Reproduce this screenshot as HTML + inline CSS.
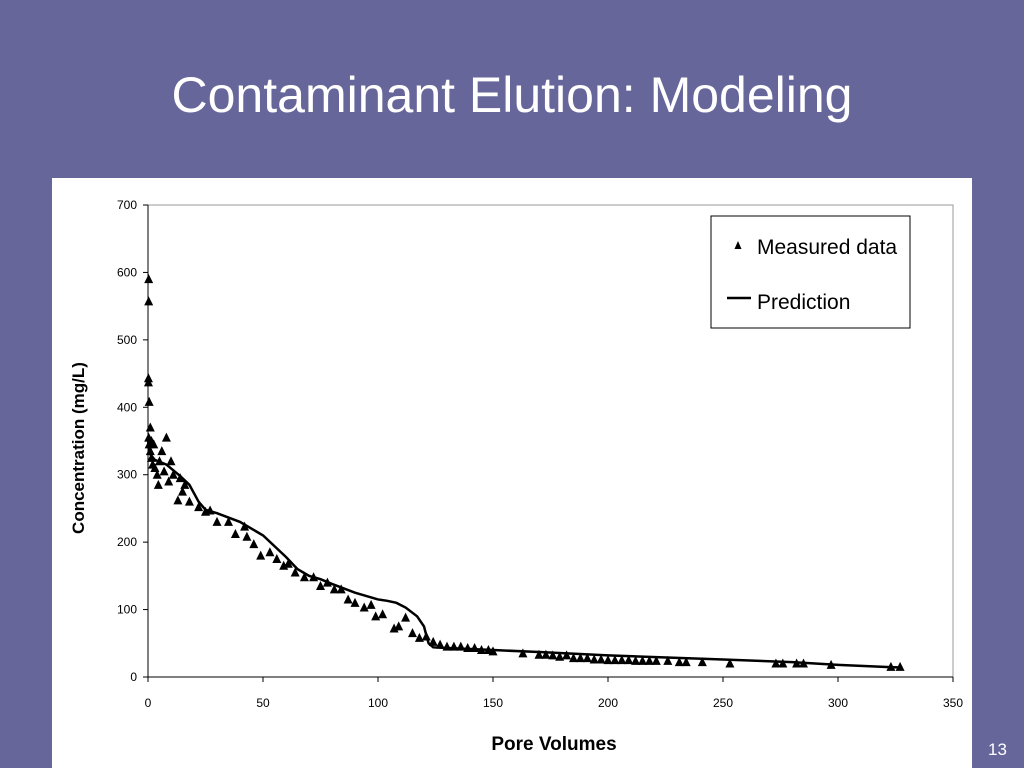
<!DOCTYPE html>
<html><head><meta charset="utf-8"><style>
body{margin:0;width:1024px;height:768px;background:#66669a;overflow:hidden;font-family:"Liberation Sans",sans-serif}
#title{position:absolute;left:0;width:1024px;top:66px;text-align:center;color:#fff;font-size:50px}
#panel{position:absolute;left:52px;top:178px;width:920px;height:590px;background:#fff}
#pg{position:absolute;left:988px;top:740px;color:#fff;font-size:17px}
</style></head><body>
<div id="title">Contaminant Elution: Modeling</div>
<div id="panel"></div>
<div id="pg">13</div>
<svg id="chart" width="1024" height="768" style="position:absolute;left:0;top:0"></svg>
<script>
const xTicks=[0,50,100,150,200,250,300,350];
const yTicks=[0,100,200,300,400,500,600,700];
const measuredX=[0.3,0.3,0.2,0.2,0.5,1,1.5,0.3,0.5,1,1.5,2,2.5,3,4,4.5,5,6,7,8,9,10,11,13,14,15,16,18,22,25,27,30,35,38,42,43,46,49,53,56,59,61,64,68,72,75,78,81,84,87,90,94,97,99,102,107,109,112,115,118,121,124,127,130,133,136,139,142,145,148,150,163,170,173,176,179,182,185,188,191,194,197,200,203,206,209,212,215,218,221,226,231,234,241,253,273,276,282,285,297,323,327];
const measuredY=[590,557,443,437,408,370,350,355,345,335,325,315,345,310,300,285,320,335,305,355,290,320,300,262,295,275,285,260,252,245,247,230,230,212,223,208,197,180,185,175,165,168,155,148,148,135,140,130,130,115,110,103,107,90,93,72,75,88,65,58,60,52,48,45,45,45,43,43,40,40,38,35,33,33,32,30,32,28,28,28,26,26,25,25,25,25,24,24,24,24,24,22,22,22,20,20,20,20,20,18,15,15];
const predX=[0,1,3,8,14,18,22,25,30,40,50,60,65,70,75,80,90,100,104,108,112,117,120,121,122,124,130,150,170,200,250,280,300,320,328];
const predY=[350,330,322,315,298,285,260,248,243,230,210,178,160,150,145,138,125,115,113,110,103,90,75,62,50,44,43,40,37,32,26,22,18,15,14];
const X0=148,X1=953,Y0=677,Y1=205;
const sx=v=>X0+(v/350)*(X1-X0), sy=v=>Y0-(v/700)*(Y0-Y1);
const svg=document.getElementById('chart'),NS='http://www.w3.org/2000/svg';
function mk(t,a,p){const e=document.createElementNS(NS,t);for(const k in a)e.setAttribute(k,a[k]);(p||svg).appendChild(e);return e;}
const frame=mk('rect',{x:X0,y:Y1,width:X1-X0,height:Y0-Y1,fill:'none',stroke:'#999','stroke-width':1});


mk('line',{x1:X0,y1:Y1,x2:X0,y2:Y0,stroke:'#000'});
mk('line',{x1:X0,y1:Y0,x2:X1,y2:Y0,stroke:'#000'});
xTicks.forEach(v=>{mk('line',{x1:sx(v),y1:Y0,x2:sx(v),y2:Y0+5,stroke:'#000'});
 const t=mk('text',{x:sx(v),y:Y0+30,'text-anchor':'middle','font-size':12,'font-family':'Liberation Sans'});t.textContent=v;
 
 });
yTicks.forEach(v=>{mk('line',{x1:X0-5,y1:sy(v),x2:X0,y2:sy(v),stroke:'#000'});
 const t=mk('text',{x:X0-11,y:sy(v)+4,'text-anchor':'end','font-size':12,'font-family':'Liberation Sans'});t.textContent=v;
 
 });
const xt=mk('text',{x:554,y:750,'text-anchor':'middle','font-size':19,'font-weight':'bold','font-family':'Liberation Sans Narrow, Liberation Sans','transform':'scale(1,1)'});xt.textContent='Pore Volumes';


const yt=mk('text',{x:0,y:0,'text-anchor':'middle','font-size':17,'font-weight':'bold','font-family':'Liberation Sans','transform':'translate(84,448) rotate(-90)'});yt.textContent='Concentration (mg/L)';


const line=mk('polyline',{points:predX.map((x,i)=>sx(x)+','+sy(predY[i])).join(' '),fill:'none',stroke:'#000','stroke-width':2.5});


measuredX.forEach((x,i)=>{const cx=sx(x),cy=sy(measuredY[i]);
 const p=mk('polygon',{points:`${cx},${cy-5} ${cx-4.5},${cy+4} ${cx+4.5},${cy+4}`,fill:'#000'});
 
 });
const lg=mk('g',{});


mk('rect',{x:711,y:216,width:199,height:112,fill:'#fff',stroke:'#000'},lg);
mk('polygon',{points:'738,241 734.5,249 741.5,249',fill:'#000'},lg);
const l1=mk('text',{x:757,y:254,'font-size':21,'font-family':'Liberation Sans Narrow, Liberation Sans'},lg);l1.textContent='Measured data';


mk('line',{x1:727,y1:298,x2:751,y2:298,stroke:'#000','stroke-width':2.5},lg);
const l2=mk('text',{x:757,y:309,'font-size':21,'font-family':'Liberation Sans Narrow, Liberation Sans'},lg);l2.textContent='Prediction';


</script>
</body></html>
